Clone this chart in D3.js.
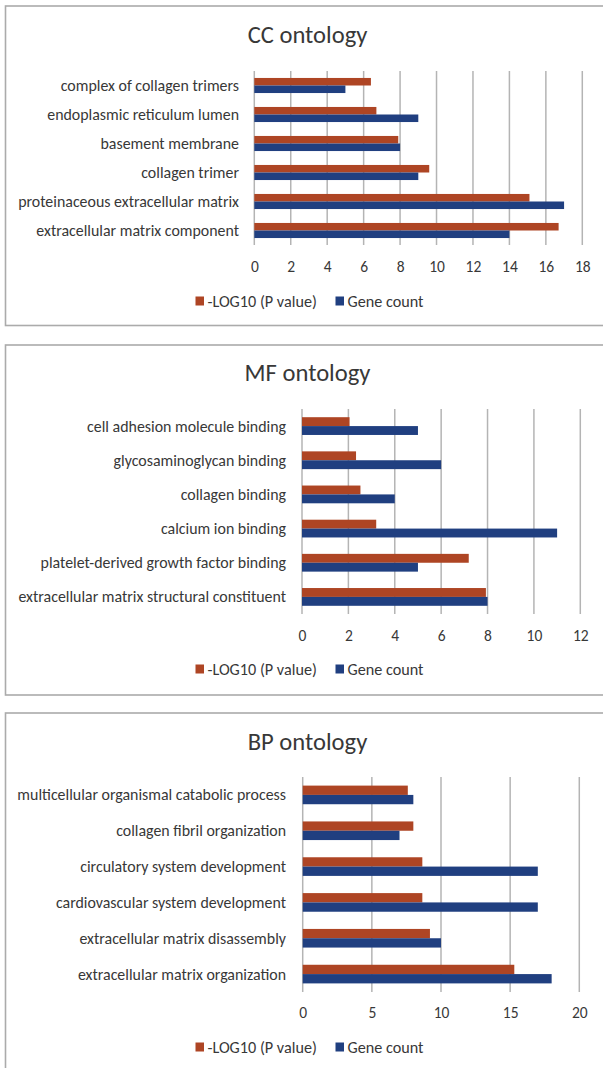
<!DOCTYPE html>
<html>
<head>
<meta charset="utf-8">
<script src="https://cdn.jsdelivr.net/npm/d3@7"></script>
<style>
  html, body { margin: 0; padding: 0; background: #fff; }
  svg { display: block; }
  text { font-family: Carlito, Calibri, Lato, "Open Sans", sans-serif; fill: #383838; }
</style>
</head>
<body>
<svg id="chart" width="603" height="1068"></svg>
<script>
// ---------- data ----------
const seriesNames = ["-LOG10 (P value)", "Gene count"];

const ccCategories = ["complex of collagen trimers", "endoplasmic reticulum lumen", "basement membrane",
  "collagen trimer", "proteinaceous extracellular matrix", "extracellular matrix component"];
const ccLogP = [6.4, 6.7, 7.9, 9.6, 15.1, 16.7];
const ccCount = [5, 9, 8, 9, 17, 14];
const ccTicks = [0, 2, 4, 6, 8, 10, 12, 14, 16, 18];

const mfCategories = ["cell adhesion molecule binding", "glycosaminoglycan binding", "collagen binding",
  "calcium ion binding", "platelet-derived growth factor binding", "extracellular matrix structural constituent"];
const mfLogP = [2.05, 2.33, 2.52, 3.2, 7.19, 7.93];
const mfCount = [5, 6, 4, 11, 5, 8];
const mfTicks = [0, 2, 4, 6, 8, 10, 12];

const bpCategories = ["multicellular organismal catabolic process", "collagen fibril organization",
  "circulatory system development", "cardiovascular system development",
  "extracellular matrix disassembly", "extracellular matrix organization"];
const bpLogP = [7.6, 8.0, 8.65, 8.65, 9.2, 15.3];
const bpCount = [8, 7, 17, 17, 10, 18];
const bpTicks = [0, 5, 10, 15, 20];

// ---------- style ----------
const colors = ["#AE4524", "#203F80"];
const gridColor = "#b4b4b4";
const frameColor = "#ababab";
const labelSize = 15.9;
const tickSize = 15.5;
const legendSize = 16.2;

const svg = d3.select("#chart");

function panel(cfg) {
  const g = svg.append("g");
  // frame
  g.append("rect")
    .attr("x", 5.5).attr("y", cfg.frameTop)
    .attr("width", 640).attr("height", cfg.frameBottom - cfg.frameTop)
    .attr("fill", "none").attr("stroke", frameColor).attr("stroke-width", 1.6);

  // title
  g.append("text")
    .attr("x", 307.5).attr("y", cfg.titleY)
    .attr("text-anchor", "middle").attr("dominant-baseline", "central")
    .style("font-size", "24.6px").text(cfg.title);

  const x = d3.scaleLinear().domain(cfg.domain).range([cfg.x0, cfg.x1]);
  const y = d3.scaleBand().domain(cfg.categories).range([cfg.yTop, cfg.yBottom])
    .paddingInner(0.48).paddingOuter(0.24);
  const ySub = d3.scaleBand().domain([0, 1]).range([0, y.bandwidth()]);

  // gridlines
  g.append("g").selectAll("line").data(cfg.ticks).join("line")
    .attr("x1", d => x(d)).attr("x2", d => x(d))
    .attr("y1", cfg.yTop).attr("y2", cfg.yBottom)
    .attr("stroke", gridColor).attr("stroke-width", 1.5);

  // bars
  const rows = cfg.categories.map((c, i) => ({ c, vals: [cfg.logP[i], cfg.count[i]] }));
  const rg = g.append("g").selectAll("g").data(rows).join("g")
    .attr("transform", d => `translate(0,${y(d.c)})`);
  rg.selectAll("rect").data(d => d.vals.map((v, k) => ({ v, k }))).join("rect")
    .attr("x", x(0)).attr("y", d => ySub(d.k))
    .attr("width", d => x(d.v) - x(0)).attr("height", ySub.bandwidth())
    .attr("fill", d => colors[d.k]);

  // category labels
  g.append("g").selectAll("text").data(cfg.categories).join("text")
    .attr("x", cfg.labelRight).attr("y", d => y(d) + y.bandwidth() / 2)
    .attr("text-anchor", "end").attr("dominant-baseline", "central")
    .style("font-size", labelSize + "px").text(d => d);

  // tick labels via axis
  const axis = d3.axisBottom(x).tickValues(cfg.ticks).tickSize(0).tickPadding(0);
  const ag = g.append("g").attr("transform", `translate(0,${cfg.tickY})`).call(axis);
  ag.select(".domain").remove();
  ag.selectAll("text").attr("dy", null).attr("y", 0)
    .attr("dominant-baseline", "central")
    .style("font-size", tickSize + "px").style("font-family", null).attr("fill", "#383838");

  // legend
  const legendItems = [
    { name: seriesNames[0], sx: 195.5, tx: 207.5 },
    { name: seriesNames[1], sx: 335.5, tx: 347.5 }
  ];
  const lg = g.append("g").selectAll("g").data(legendItems).join("g");
  lg.append("rect").attr("x", d => d.sx).attr("y", cfg.legendY - 4.5)
    .attr("width", 8.5).attr("height", 9).attr("fill", (d, i) => colors[i]);
  lg.append("text").attr("x", d => d.tx).attr("y", cfg.legendY)
    .attr("dominant-baseline", "central")
    .style("font-size", legendSize + "px").text(d => d.name);
}

panel({
  title: "CC ontology", categories: ccCategories, logP: ccLogP, count: ccCount, ticks: ccTicks,
  domain: [0, 18], frameTop: 6, frameBottom: 325.5, titleY: 35,
  x0: 254.3, x1: 582.3, yTop: 71, yBottom: 245, tickY: 266, legendY: 301, labelRight: 239
});
panel({
  title: "MF ontology", categories: mfCategories, logP: mfLogP, count: mfCount, ticks: mfTicks,
  domain: [0, 12], frameTop: 345, frameBottom: 695, titleY: 373,
  x0: 302, x1: 580.3, yTop: 409, yBottom: 614, tickY: 635, legendY: 669, labelRight: 286
});
panel({
  title: "BP ontology", categories: bpCategories, logP: bpLogP, count: bpCount, ticks: bpTicks,
  domain: [0, 20], frameTop: 713, frameBottom: 1090, titleY: 742,
  x0: 302.7, x1: 579.3, yTop: 777, yBottom: 992, tickY: 1012, legendY: 1047, labelRight: 286
});
</script>
</body>
</html>
